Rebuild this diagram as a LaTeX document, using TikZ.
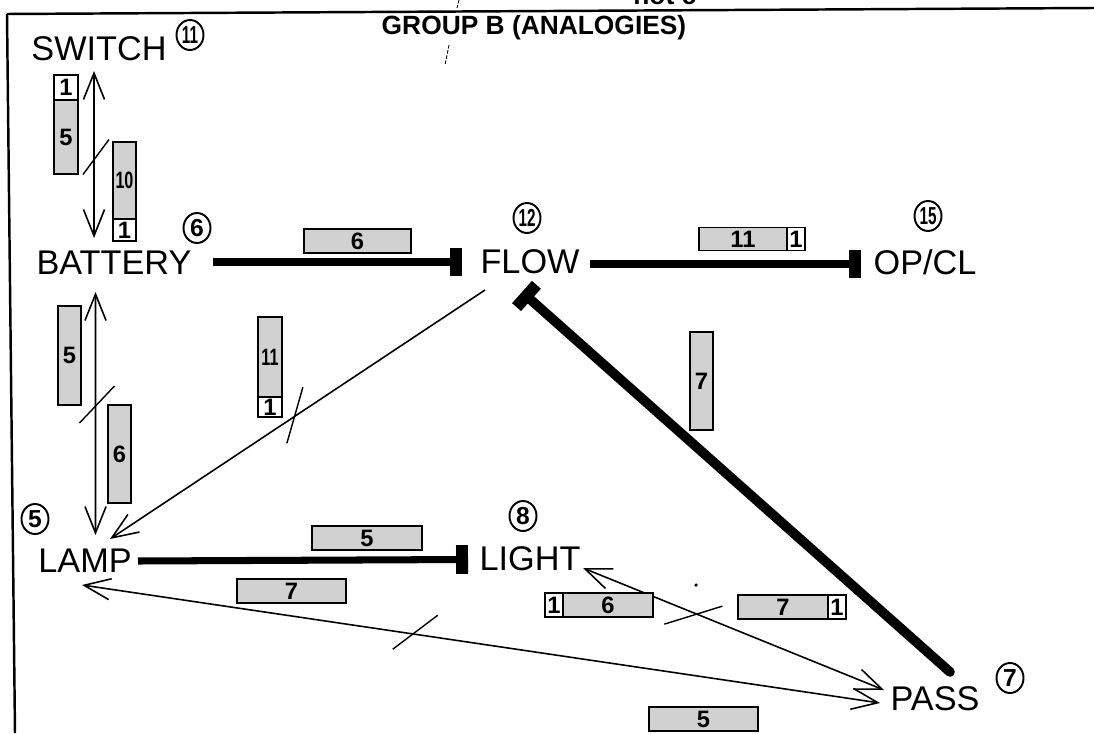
\documentclass[tikz,border=0pt]{standalone}
\usepackage{fontspec}
\setmainfont{Liberation Sans}
\usepackage{graphicx}
\usetikzlibrary{arrows.meta,calc,shapes.geometric}
\begin{document}
\begin{tikzpicture}[x=0.02cm,y=-0.02cm,
  word/.style={font=\fontsize{19.5}{20}\selectfont, inner sep=0pt, text depth=0pt},
  cnum/.style={ellipse, draw, line width=1.1pt, minimum width=0.54cm, minimum height=0.6cm, inner sep=0pt, font=\bfseries\fontsize{14}{14}\selectfont},
  gbox/.style={draw, line width=1pt, fill=black!18, inner sep=0pt, font=\bfseries\fontsize{13.5}{14}\selectfont},
  wbox/.style={gbox, fill=white},
  rel2/.style={line width=0.9pt, {Straight Barb[length=15pt,width=12pt]}-{Straight Barb[length=15pt,width=12pt]}},
  rel1/.style={line width=0.9pt, -{Straight Barb[length=15pt,width=12pt]}},
  inh/.style={line width=4pt, -{Rectangle[length=6.8pt,width=16.4pt]}},
  inhb/.style={line width=5.5pt, line cap=round, {Rectangle[length=6.8pt,width=17pt]}-},
  tickmark/.style={line width=0.8pt},
  frame/.style={line width=1.4pt}
]
\useasboundingbox (0,0) rectangle (1094,733);

% frame and header
\draw[frame] (7,14) -- (1094,8);
\draw[frame] (7,14) -- (15,733);
\node[font=\bfseries\fontsize{15}{15}\selectfont, inner sep=0pt, anchor=base west] (notc) at (633,5) {not c};
\node[font=\bfseries\fontsize{15}{15}\selectfont, inner sep=0pt] (title) at (534,28) {GROUP B (ANALOGIES)};
\draw[line width=0.5pt, dash pattern=on 2pt off 1pt] (459,0) -- (457,8);
\draw[line width=0.5pt, dash pattern=on 2pt off 1pt] (449,45) -- (445,65);

% concept words
\node[word] (switch) at (99,49) {SWITCH};
\node[word] (battery) at (114,263) {BATTERY};
\node[word] (flow) at (530,262) {FLOW};
\node[word] (opcl) at (925,262) {OP/CL};
\node[word] (lamp) at (85,561) {LAMP};
\node[word] (light) at (530,559) {LIGHT};
\node[word] (pass) at (935,699) {PASS};

% circled numbers
\node[cnum] (c11) at (190,35) {\makebox[0pt]{\scalebox{0.62}[1]{11}}};
\node[cnum] (c6) at (197,228) {\makebox[0pt]{6}};
\node[cnum] (c12) at (527,218) {\makebox[0pt]{\scalebox{0.62}[1]{12}}};
\node[cnum] (c15) at (928,216) {\makebox[0pt]{\scalebox{0.62}[1]{15}}};
\node[cnum] (c5) at (35,519) {\makebox[0pt]{5}};
\node[cnum] (c8) at (523,516) {\makebox[0pt]{8}};
\node[cnum] (c7) at (1010,678) {\makebox[0pt]{7}};

% connectors
\draw[rel2] ($(switch)+(-5,22)$) -- coordinate[pos=0.53] (t1) ($(battery)+(-20,-25)$);
\draw[tickmark] ($(t1)+(-11,15)$) -- ($(t1)+(15,-20)$);

\draw[rel2] ($(battery)+(-18.5,29)$) -- coordinate[pos=0.465] (t2) ($(lamp)+(10.5,-26)$);
\draw[tickmark] ($(t2)+(-16,18)$) -- ($(t2)+(19,-19)$);

\draw[inh] ($(battery)+(99,-1)$) -- ($(flow)+(-68,0)$);
\draw[inh] ($(flow)+(60,2)$) -- ($(opcl)+(-64,2)$);
\draw[inh] ($(lamp)+(53,0)$) -- ($(light)+(-62,0.5)$);
\draw[inhb] ($(flow)+(-8,30)$) -- ($(pass)+(15,-27)$);

\draw[rel1] ($(flow)+(-45,28)$) -- coordinate[pos=0.507] (t3) ($(lamp)+(25,-22)$);
\draw[tickmark] ($(t3)+(-8,27)$) -- ($(t3)+(8,-29)$);

\draw[rel2] ($(lamp)+(-3,24)$) -- coordinate[pos=0.417] (t4) ($(pass)+(-55,4)$);
\draw[tickmark] ($(t4)+(-22,15)$) -- ($(t4)+(23,-19)$);

\draw[rel2] ($(light)+(53,9)$) -- coordinate[pos=0.37] (t5) ($(pass)+(-51,-9)$);
\draw[tickmark] ($(t5)+(-30,11)$) -- ($(t5)+(28,-7)$);
\fill (696,585) circle (1pt);

% label boxes
\node[wbox, minimum width=0.48cm, minimum height=0.5cm] (a1) at (66,87.5) {1};
\node[gbox, minimum width=0.48cm, minimum height=1.48cm] (a2) at (66,137) {5};
\node[gbox, minimum width=0.46cm, minimum height=1.54cm] (b1) at (124.5,180.5) {\scalebox{0.68}[1]{10}};
\node[wbox, minimum width=0.46cm, minimum height=0.44cm] (b2) at (124.5,230) {1};
\node[gbox, minimum width=2.14cm, minimum height=0.48cm] (cbox) at (357.5,241) {6};
\node[gbox, minimum width=1.76cm, minimum height=0.46cm] (d1) at (743,239) {11};
\node[wbox, minimum width=0.36cm, minimum height=0.46cm] (d2) at (796,239) {1};
\node[gbox, minimum width=0.46cm, minimum height=1.96cm] (ebox) at (701.5,381) {7};
\node[gbox, minimum width=0.46cm, minimum height=1.98cm] (fbox) at (69.5,355.5) {5};
\node[gbox, minimum width=0.46cm, minimum height=1.96cm] (gbx) at (119.5,454) {6};
\node[gbox, minimum width=0.48cm, minimum height=1.6cm] (h1) at (270,357) {\scalebox{0.68}[1]{11}};
\node[wbox, minimum width=0.48cm, minimum height=0.4cm] (h2) at (270,407) {1};
\node[gbox, minimum width=2.2cm, minimum height=0.48cm] (ibox) at (367,538) {5};
\node[gbox, minimum width=2.18cm, minimum height=0.48cm] (jbox) at (291.5,591) {7};
\node[wbox, minimum width=0.36cm, minimum height=0.48cm] (k1) at (554,605) {1};
\node[gbox, minimum width=1.8cm, minimum height=0.48cm] (k2) at (608,605) {6};
\node[gbox, minimum width=1.8cm, minimum height=0.48cm] (l1) at (783,607) {7};
\node[wbox, minimum width=0.36cm, minimum height=0.48cm] (l2) at (837,607) {1};
\node[gbox, minimum width=2.18cm, minimum height=0.48cm] (mbox) at (703.5,719) {5};
\end{tikzpicture}
\end{document}
